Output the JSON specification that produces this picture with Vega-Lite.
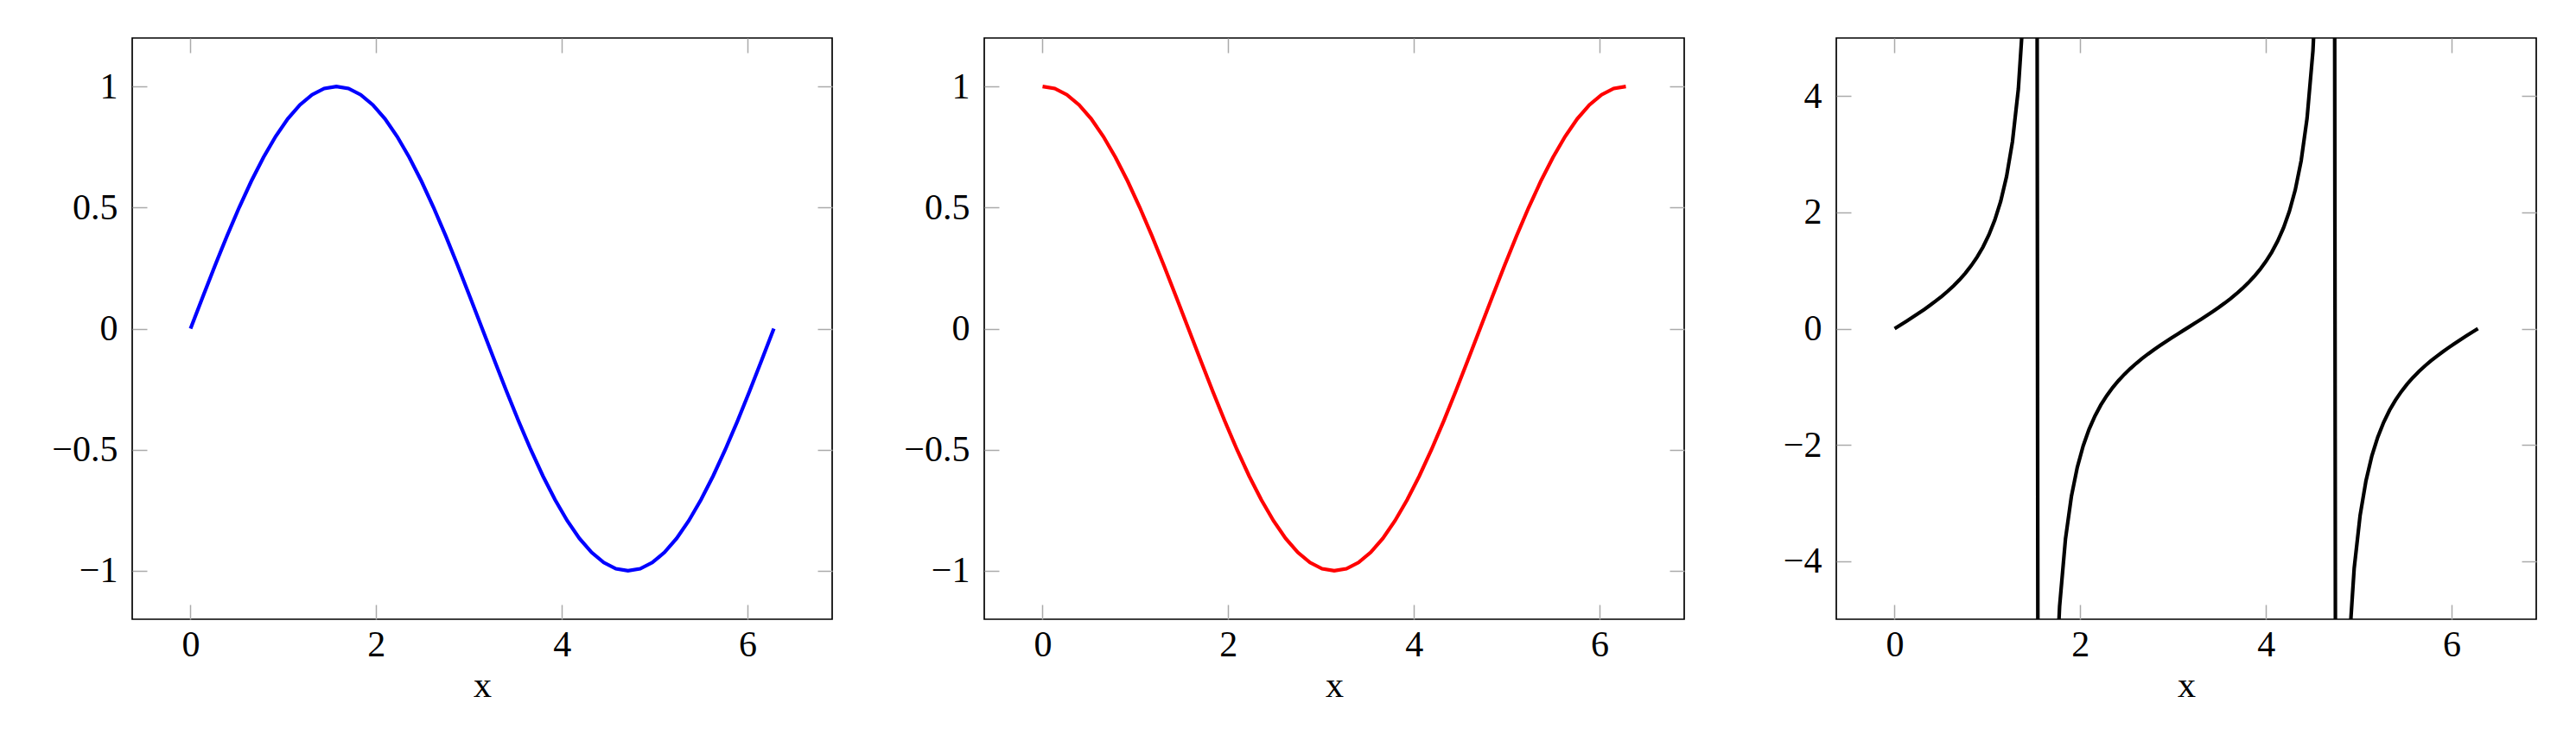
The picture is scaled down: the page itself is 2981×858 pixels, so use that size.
{
  "$schema": "https://vega.github.io/schema/vega-lite/v6.json",
  "background": "white",
  "padding": {"left": 58, "top": 42, "right": 10, "bottom": 10},
  "spacing": 176,
  "bounds": "flush",
  "config": {
    "view": {"stroke": "black", "strokeWidth": 1.7},
    "axis": {
      "labelFont": "Liberation Serif", "labelFontSize": 42, "labelColor": "black",
      "titleFont": "Liberation Serif", "titleFontSize": 42, "titleFontWeight": "normal", "titleColor": "black",
      "domain": false, "grid": false, "tickColor": "#aaaaaa", "tickWidth": 1.5, "tickSize": -17
    }
  },
  "datasets": {
    "sin": [
      {"x":0,"y":0},{"x":0.1309,"y":0.1305},{"x":0.2618,"y":0.2588},{"x":0.3927,"y":0.3827},{"x":0.5236,"y":0.5},{"x":0.6545,"y":0.6088},{"x":0.7854,"y":0.7071},{"x":0.9163,"y":0.7934},{"x":1.0472,"y":0.866},{"x":1.1781,"y":0.9239},{"x":1.309,"y":0.9659},{"x":1.4399,"y":0.9914},{"x":1.5708,"y":1},
      {"x":1.7017,"y":0.9914},{"x":1.8326,"y":0.9659},{"x":1.9635,"y":0.9239},{"x":2.0944,"y":0.866},{"x":2.2253,"y":0.7934},{"x":2.3562,"y":0.7071},{"x":2.4871,"y":0.6088},{"x":2.618,"y":0.5},{"x":2.7489,"y":0.3827},{"x":2.8798,"y":0.2588},{"x":3.0107,"y":0.1305},{"x":3.1416,"y":0},
      {"x":3.2725,"y":-0.1305},{"x":3.4034,"y":-0.2588},{"x":3.5343,"y":-0.3827},{"x":3.6652,"y":-0.5},{"x":3.7961,"y":-0.6088},{"x":3.927,"y":-0.7071},{"x":4.0579,"y":-0.7934},{"x":4.1888,"y":-0.866},{"x":4.3197,"y":-0.9239},{"x":4.4506,"y":-0.9659},{"x":4.5815,"y":-0.9914},{"x":4.7124,"y":-1},
      {"x":4.8433,"y":-0.9914},{"x":4.9742,"y":-0.9659},{"x":5.1051,"y":-0.9239},{"x":5.236,"y":-0.866},{"x":5.3669,"y":-0.7934},{"x":5.4978,"y":-0.7071},{"x":5.6287,"y":-0.6088},{"x":5.7596,"y":-0.5},{"x":5.8905,"y":-0.3827},{"x":6.0214,"y":-0.2588},{"x":6.1523,"y":-0.1305},{"x":6.2832,"y":0}
    ],
    "cos": [
      {"x":0,"y":1},{"x":0.1309,"y":0.9914},{"x":0.2618,"y":0.9659},{"x":0.3927,"y":0.9239},{"x":0.5236,"y":0.866},{"x":0.6545,"y":0.7934},{"x":0.7854,"y":0.7071},{"x":0.9163,"y":0.6088},{"x":1.0472,"y":0.5},{"x":1.1781,"y":0.3827},{"x":1.309,"y":0.2588},{"x":1.4399,"y":0.1305},{"x":1.5708,"y":0},
      {"x":1.7017,"y":-0.1305},{"x":1.8326,"y":-0.2588},{"x":1.9635,"y":-0.3827},{"x":2.0944,"y":-0.5},{"x":2.2253,"y":-0.6088},{"x":2.3562,"y":-0.7071},{"x":2.4871,"y":-0.7934},{"x":2.618,"y":-0.866},{"x":2.7489,"y":-0.9239},{"x":2.8798,"y":-0.9659},{"x":3.0107,"y":-0.9914},{"x":3.1416,"y":-1},
      {"x":3.2725,"y":-0.9914},{"x":3.4034,"y":-0.9659},{"x":3.5343,"y":-0.9239},{"x":3.6652,"y":-0.866},{"x":3.7961,"y":-0.7934},{"x":3.927,"y":-0.7071},{"x":4.0579,"y":-0.6088},{"x":4.1888,"y":-0.5},{"x":4.3197,"y":-0.3827},{"x":4.4506,"y":-0.2588},{"x":4.5815,"y":-0.1305},{"x":4.7124,"y":0},
      {"x":4.8433,"y":0.1305},{"x":4.9742,"y":0.2588},{"x":5.1051,"y":0.3827},{"x":5.236,"y":0.5},{"x":5.3669,"y":0.6088},{"x":5.4978,"y":0.7071},{"x":5.6287,"y":0.7934},{"x":5.7596,"y":0.866},{"x":5.8905,"y":0.9239},{"x":6.0214,"y":0.9659},{"x":6.1523,"y":0.9914},{"x":6.2832,"y":1}
    ],
    "tan": [
      {"x":0,"y":0},{"x":0.0635,"y":0.0636},{"x":0.1269,"y":0.1276},{"x":0.1904,"y":0.1927},{"x":0.2539,"y":0.2595},{"x":0.3173,"y":0.3284},{"x":0.3808,"y":0.4004},{"x":0.4443,"y":0.4761},{"x":0.5077,"y":0.5564},{"x":0.5712,"y":0.6427},
      {"x":0.6347,"y":0.7364},{"x":0.6981,"y":0.8391},{"x":0.7616,"y":0.9536},{"x":0.8251,"y":1.0828},{"x":0.8885,"y":1.2309},{"x":0.952,"y":1.4045},{"x":1.0155,"y":1.6119},{"x":1.0789,"y":1.8664},{"x":1.1424,"y":2.19},{"x":1.2059,"y":2.618},
      {"x":1.2693,"y":3.216},{"x":1.3328,"y":4.122},{"x":1.3963,"y":5.6713},{"x":1.4597,"y":8.965},{"x":1.5232,"y":20.99},{"x":1.5867,"y":-63.02},{"x":1.6501,"y":-12.578},{"x":1.7136,"y":-6.955},{"x":1.7771,"y":-4.779},{"x":1.8405,"y":-3.6166},
      {"x":1.904,"y":-2.8891},{"x":1.9675,"y":-2.3873},{"x":2.0309,"y":-2.0175},{"x":2.0944,"y":-1.7321},{"x":2.1579,"y":-1.5029},{"x":2.2213,"y":-1.3138},{"x":2.2848,"y":-1.154},{"x":2.3483,"y":-1.0159},{"x":2.4117,"y":-0.8947},{"x":2.4752,"y":-0.7865},
      {"x":2.5387,"y":-0.6885},{"x":2.6021,"y":-0.5987},{"x":2.6656,"y":-0.5156},{"x":2.7291,"y":-0.4377},{"x":2.7925,"y":-0.364},{"x":2.856,"y":-0.2937},{"x":2.9195,"y":-0.2259},{"x":2.9829,"y":-0.16},{"x":3.0464,"y":-0.0955},{"x":3.1099,"y":-0.0317},
      {"x":3.1733,"y":0.0317},{"x":3.2368,"y":0.0955},{"x":3.3003,"y":0.16},{"x":3.3637,"y":0.2259},{"x":3.4272,"y":0.2937},{"x":3.4907,"y":0.364},{"x":3.5541,"y":0.4377},{"x":3.6176,"y":0.5156},{"x":3.6811,"y":0.5987},{"x":3.7445,"y":0.6885},
      {"x":3.808,"y":0.7865},{"x":3.8715,"y":0.8947},{"x":3.9349,"y":1.0159},{"x":3.9984,"y":1.154},{"x":4.0619,"y":1.3138},{"x":4.1253,"y":1.5029},{"x":4.1888,"y":1.7321},{"x":4.2523,"y":2.0175},{"x":4.3157,"y":2.3873},{"x":4.3792,"y":2.8891},
      {"x":4.4427,"y":3.6166},{"x":4.5061,"y":4.779},{"x":4.5696,"y":6.955},{"x":4.6331,"y":12.578},{"x":4.6965,"y":63.02},{"x":4.76,"y":-20.99},{"x":4.8235,"y":-8.965},{"x":4.8869,"y":-5.6713},{"x":4.9504,"y":-4.122},{"x":5.0139,"y":-3.216},
      {"x":5.0773,"y":-2.618},{"x":5.1408,"y":-2.19},{"x":5.2043,"y":-1.8664},{"x":5.2677,"y":-1.6119},{"x":5.3312,"y":-1.4045},{"x":5.3947,"y":-1.2309},{"x":5.4581,"y":-1.0828},{"x":5.5216,"y":-0.9536},{"x":5.5851,"y":-0.8391},{"x":5.6485,"y":-0.7364},
      {"x":5.712,"y":-0.6427},{"x":5.7755,"y":-0.5564},{"x":5.8389,"y":-0.4761},{"x":5.9024,"y":-0.4004},{"x":5.9659,"y":-0.3284},{"x":6.0293,"y":-0.2595},{"x":6.0928,"y":-0.1927},{"x":6.1563,"y":-0.1276},{"x":6.2197,"y":-0.0636},{"x":6.2832,"y":0}
    ]
  },
  "hconcat": [
    {
      "width": 810, "height": 673,
      "data": {"name": "sin"},
      "layer": [
        {
          "mark": {"type": "line", "color": "#0000ff", "strokeWidth": 4.2, "clip": true},
          "encoding": {
            "x": {"field": "x", "type": "quantitative", "scale": {"domain": [-0.6283, 6.9115], "nice": false, "zero": false},
                  "axis": {"orient": "bottom", "values": [0, 2, 4, 6], "format": "~g", "labelPadding": 26, "title": "x", "titlePadding": 6}},
            "y": {"field": "y", "type": "quantitative", "scale": {"domain": [-1.2, 1.2], "nice": false, "zero": false},
                  "axis": {"orient": "left", "values": [-1, -0.5, 0, 0.5, 1], "format": "~g", "labelPadding": 34, "title": null}}
          }
        },
        {
          "mark": {"type": "line", "strokeOpacity": 0, "clip": true},
          "encoding": {
            "x": {"field": "x", "type": "quantitative", "axis": {"orient": "top", "values": [0, 2, 4, 6], "labels": false, "title": null}},
            "y": {"field": "y", "type": "quantitative", "axis": {"orient": "right", "values": [-1, -0.5, 0, 0.5, 1], "labels": false, "title": null}}
          }
        }
      ],
      "resolve": {"axis": {"x": "independent", "y": "independent"}}
    },
    {
      "width": 810, "height": 673,
      "data": {"name": "cos"},
      "layer": [
        {
          "mark": {"type": "line", "color": "#ff0000", "strokeWidth": 4.2, "clip": true},
          "encoding": {
            "x": {"field": "x", "type": "quantitative", "scale": {"domain": [-0.6283, 6.9115], "nice": false, "zero": false},
                  "axis": {"orient": "bottom", "values": [0, 2, 4, 6], "format": "~g", "labelPadding": 26, "title": "x", "titlePadding": 6}},
            "y": {"field": "y", "type": "quantitative", "scale": {"domain": [-1.2, 1.2], "nice": false, "zero": false},
                  "axis": {"orient": "left", "values": [-1, -0.5, 0, 0.5, 1], "format": "~g", "labelPadding": 34, "title": null}}
          }
        },
        {
          "mark": {"type": "line", "strokeOpacity": 0, "clip": true},
          "encoding": {
            "x": {"field": "x", "type": "quantitative", "axis": {"orient": "top", "values": [0, 2, 4, 6], "labels": false, "title": null}},
            "y": {"field": "y", "type": "quantitative", "axis": {"orient": "right", "values": [-1, -0.5, 0, 0.5, 1], "labels": false, "title": null}}
          }
        }
      ],
      "resolve": {"axis": {"x": "independent", "y": "independent"}}
    },
    {
      "width": 810, "height": 673,
      "data": {"name": "tan"},
      "layer": [
        {
          "mark": {"type": "line", "color": "#000000", "strokeWidth": 4.2, "clip": true},
          "encoding": {
            "x": {"field": "x", "type": "quantitative", "scale": {"domain": [-0.6283, 6.9115], "nice": false, "zero": false},
                  "axis": {"orient": "bottom", "values": [0, 2, 4, 6], "format": "~g", "labelPadding": 26, "title": "x", "titlePadding": 6}},
            "y": {"field": "y", "type": "quantitative", "scale": {"domain": [-5, 5], "nice": false, "zero": false},
                  "axis": {"orient": "left", "values": [-4, -2, 0, 2, 4], "format": "~g", "labelPadding": 34, "title": null}}
          }
        },
        {
          "mark": {"type": "line", "strokeOpacity": 0, "clip": true},
          "encoding": {
            "x": {"field": "x", "type": "quantitative", "axis": {"orient": "top", "values": [0, 2, 4, 6], "labels": false, "title": null}},
            "y": {"field": "y", "type": "quantitative", "axis": {"orient": "right", "values": [-4, -2, 0, 2, 4], "labels": false, "title": null}}
          }
        }
      ],
      "resolve": {"axis": {"x": "independent", "y": "independent"}}
    }
  ]
}
